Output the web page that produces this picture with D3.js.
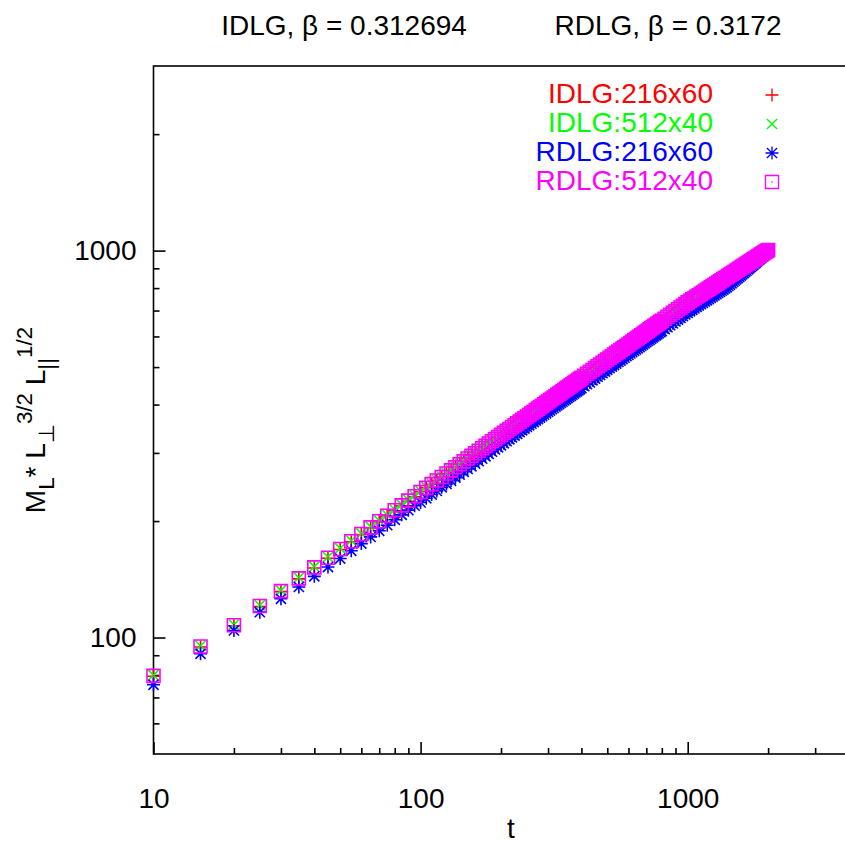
<!DOCTYPE html>
<html><head><meta charset="utf-8">
<script src="https://cdn.jsdelivr.net/npm/d3@7"></script>
<style>body{margin:0;background:#fff}svg text{font-family:"Liberation Sans",Arial,Helvetica,sans-serif}</style>
</head><body>
<svg id="chart" width="845" height="843"></svg>
<script>
// ---- data ----
const tValues = [10,15,20,25,30,35,40,45,50,55,60,65,70,75,80,85,90,95,
100,105,110,115,120,125,130,135,140,145,150,155,160,165,170,175,180,185,190,195,
200,205,210,215,220,225,230,235,240,245,250,255,260,265,270,275,280,285,290,295,
300,305,310,315,320,325,330,335,340,345,350,355,360,365,370,375,380,385,390,395,400,
410,420,430,440,450,460,470,480,490,500,510,520,530,540,550,560,570,580,590,600,
610,620,630,640,650,660,670,680,690,700,710,720,730,740,750,760,770,780,790,800,
820,840,860,880,900,920,940,960,980,1000,
1020,1040,1060,1080,1100,1120,1140,1160,1180,1200,1220,1240,1260,1280,1300,1320,1340,1360,1380,1400,
1420,1440,1460,1480,1500,1520,1540,1560,1580,1600,1620,1640,1660,1680,1700,1720,1740,1760,1780,1800,
1820,1840,1860,1880,1900,1920,1940,1960,1980,2000];

const idlg216x60 = [79.4,94.5,107.3,120.2,131.4,141.8,151.3,160.3,168.8,176.9,184.5,192.0,199.1,205.9,212.6,218.9,225.1,231.2,
238,244,249,255,260,265,270,276,280,285,290,295,299,304,308,313,317,322,326,330,
334,338,342,346,350,354,358,361,365,369,373,376,380,383,387,390,394,397,401,404,
407,411,414,417,421,424,427,430,433,436,439,442,445,449,452,454,457,460,463,466,469,
475,480,486,492,497,502,508,513,518,523,528,533,538,543,548,553,558,563,567,572,
577,581,586,591,595,600,604,608,613,617,621,626,630,634,638,642,647,651,655,659,
667,675,683,690,698,706,713,720,728,735,
741,748,754,761,767,773,779,786,792,798,804,810,815,821,827,833,838,844,849,855,
860,866,871,877,882,887,892,898,903,908,913,918,923,928,933,938,943,948,953,957,
962,967,972,976,981,986,990,995,999,1004];

const idlg512x40 = [79.9,95.2,108.0,121.1,132.3,142.8,152.4,161.4,170.0,178.1,185.8,193.4,200.5,207.3,214.1,220.5,226.7,232.8,
239,245,250,256,261,266,271,277,282,286,291,296,301,305,310,314,318,323,327,331,
335,339,343,347,351,355,359,363,367,370,374,378,381,385,388,392,395,399,402,406,
409,412,416,419,422,425,429,432,435,438,441,444,447,450,453,456,459,462,465,468,471,
477,482,488,493,499,504,510,515,520,525,531,536,541,546,551,555,560,565,570,574,
579,584,588,593,597,602,606,611,615,619,624,628,632,637,641,645,649,653,657,661,
669,677,685,693,701,708,716,723,730,738,
744,751,757,764,770,776,782,789,795,801,807,813,819,824,830,836,842,847,853,858,
864,869,875,880,885,891,896,901,906,912,917,922,927,932,937,942,947,951,956,961,
966,971,975,980,985,989,994,999,1003,1008];

const rdlg216x60 = [75.5,90.8,104.3,116.3,125.9,135.1,143.9,152.1,160.0,167.6,174.9,182.0,188.7,195.1,201.5,207.5,213.4,219.1,
223.5,229.0,234.2,239.3,244.4,249.4,254.2,259.0,263.6,268.2,272.7,277.1,281.4,285.7,289.9,294.0,298.2,302.2,306.2,310.1,
314.0,317.7,321.6,325.2,328.9,332.6,336.2,339.7,343.3,346.8,350.2,353.6,357.0,360.4,363.7,367.0,370.3,373.5,376.7,379.8,
383.0,386.1,389.2,392.2,395.3,398.3,401.3,404.2,407.1,410.0,412.9,415.9,418.7,421.6,424.4,427.1,430.0,432.7,435.5,438.2,440.9,
446.2,451.6,456.8,462.0,467.1,472.2,477.1,482.1,487.0,491.9,496.7,501.4,506.1,510.8,515.4,519.9,524.4,528.9,533.4,537.8,
542.2,546.5,550.8,555.1,559.3,563.5,567.7,571.8,575.9,580.0,584.0,588.1,592.0,596.1,599.9,603.9,607.7,611.6,615.4,619.3,
626.8,634.2,641.6,648.9,656.0,663.2,670.1,677.1,683.9,690.7,
696.9,703.0,709.0,715.1,721.0,726.8,732.6,738.5,744.1,749.7,755.4,760.9,766.4,771.8,777.3,782.6,787.9,793.2,798.4,803.6,
810.2,816.7,823.3,829.9,836.3,842.8,849.3,855.7,862.2,868.6,874.9,881.3,887.6,893.9,900.3,906.7,912.9,919.3,925.5,931.7,
938.0,944.3,950.4,956.7,962.9,969.1,975.2,981.5,987.6,993.8];

const rdlg512x40 = [79.6,94.8,107.6,120.6,131.8,142.2,151.8,160.8,169.3,177.4,185.1,192.6,199.7,206.5,213.2,219.6,225.8,231.9,
237.8,243.6,249.2,254.6,260.0,265.3,270.4,275.5,280.4,285.3,290.1,294.8,299.4,303.9,308.4,312.8,317.2,321.5,325.7,329.9,
334.0,338.0,342.1,346.0,349.9,353.8,357.7,361.4,365.2,368.9,372.6,376.2,379.8,383.4,386.9,390.4,393.9,397.3,400.7,404.0,
407.4,410.7,414.0,417.2,420.5,423.7,426.9,430.0,433.1,436.2,439.3,442.4,445.4,448.5,451.5,454.4,457.4,460.3,463.3,466.2,469.0,
474.7,480.4,486.0,491.5,496.9,502.3,507.6,512.9,518.1,523.3,528.4,533.4,538.4,543.4,548.3,553.1,557.9,562.7,567.4,572.1,
576.8,581.4,586.0,590.5,595.0,599.5,603.9,608.3,612.7,617.0,621.3,625.6,629.8,634.1,638.2,642.4,646.5,650.6,654.7,658.8,
666.8,674.7,682.5,690.3,697.9,705.5,712.9,720.3,727.6,734.8,
741.4,747.9,754.3,760.7,767.0,773.2,779.4,785.6,791.6,797.6,803.6,809.5,815.3,821.1,826.9,832.6,838.2,843.8,849.4,854.9,
860.4,865.8,871.2,876.6,881.9,887.2,892.4,897.6,902.8,907.9,913.0,918.0,923.0,928.0,933.0,937.9,942.8,947.7,952.5,957.3,
962.1,966.8,971.5,976.2,980.9,985.5,990.1,994.7,999.3,1003.8];

const seriesNames = ["IDLG:216x60", "IDLG:512x40", "RDLG:216x60", "RDLG:512x40"];
const seriesColors = ["#ff0000", "#00ff00", "#0000ff", "#ff00ff"];
const seriesSymbols = ["plus", "cross", "star", "box"];
const titleTexts = ["IDLG, \u03b2 = 0.312694", "RDLG, \u03b2 = 0.3172"];
const xMajorTicks = [10, 100, 1000];
const xMinorTicks = [20,30,40,50,60,70,80,90,200,300,400,500,600,700,800,900,2000,3000,4000];
const yMajorTicks = [100, 1000];
const yMinorTicks = [60,70,80,90,200,300,400,500,600,700,800,900,2000];
const xLabel = "t";

// ---- drawing ----
const svg = d3.select("#chart");
const FONT = 28;
const L = 153.5, T = 66, B = 754, R = 874.4;
const x = d3.scaleLog().domain([10, 5000]).range([L, R]);
const y = d3.scaleLog().domain([50, 3000]).range([B, T]);

const series = [idlg216x60, idlg512x40, rdlg216x60, rdlg512x40].map((vals, i) => ({
  name: seriesNames[i], color: seriesColors[i], symbol: seriesSymbols[i],
  points: tValues.map((t, j) => ({t, v: vals[j]}))
}));

function symbolPath(type, h) {
  const c = h * 0.78;
  switch (type) {
    case "plus": return `M${-h},0H${h}M0,${-h}V${h}`;
    case "cross": return `M${-c},${-c}L${c},${c}M${-c},${c}L${c},${-c}`;
    case "star": return `M${-h},0H${h}M0,${-h}V${h}M${-c},${-c}L${c},${c}M${-c},${c}L${c},${-c}`;
    case "box": return `M${-h},${-h}H${h}V${h}H${-h}Z M-0.6,0H0.6`;
  }
}
const H = 6.5;
const SW = 1.6;

// border
svg.append("rect").attr("x", L).attr("y", T).attr("width", R - L).attr("height", B - T)
  .attr("fill", "none").attr("stroke", "#000").attr("stroke-width", 1.6);

function styleAxis(g) {
  g.select(".domain").remove();
  g.selectAll(".tick line").attr("stroke", "#000").attr("stroke-width", 1.6);
  g.selectAll(".tick text").attr("font-size", FONT).attr("fill", "#000")
    .attr("font-family", '"Liberation Sans",Arial,Helvetica,sans-serif');
}
svg.append("g").attr("transform", `translate(0,${B})`)
  .call(d3.axisBottom(x).tickValues(xMajorTicks).tickSize(-12).tickPadding(34).tickFormat(d3.format("d")))
  .call(styleAxis);
svg.append("g").attr("transform", `translate(0,${B})`)
  .call(d3.axisBottom(x).tickValues(xMinorTicks).tickSize(-6).tickFormat(""))
  .call(styleAxis);
svg.append("g").attr("transform", `translate(${L},0)`)
  .call(d3.axisLeft(y).tickValues(yMajorTicks).tickSize(-12).tickPadding(17).tickFormat(d3.format("d")))
  .call(styleAxis);
svg.append("g").attr("transform", `translate(${L},0)`)
  .call(d3.axisLeft(y).tickValues(yMinorTicks).tickSize(-6).tickFormat(""))
  .call(styleAxis);

// points
series.forEach(s => {
  svg.append("g").selectAll("path").data(s.points).join("path")
    .attr("transform", d => `translate(${x(d.t)},${y(d.v)})`)
    .attr("d", symbolPath(s.symbol, H))
    .attr("fill", "none").attr("stroke", s.color).attr("stroke-width", SW);
});

// titles
const titleX = [344, 668];
titleTexts.forEach((tt, i) => {
  svg.append("text").attr("x", titleX[i]).attr("y", 35).attr("text-anchor", "middle")
    .attr("font-size", FONT).attr("fill", "#000").text(tt);
});

// x label
svg.append("text").attr("x", 511).attr("y", 838).attr("text-anchor", "middle")
  .attr("font-size", FONT).attr("fill", "#000").text(xLabel);

// y label with sub/superscripts
const yParts = [
  {s: "M", k: 0}, {s: "L", k: 1}, {s: "*", k: 0}, {s: " L", k: 0}, {s: "\u22a5", k: 1},
  {s: "3/2", k: -1}, {s: " L", k: 0}, {s: "||", k: 1}, {s: "1/2", k: -1}
];
const yl = svg.append("text").attr("transform", "translate(45,420) rotate(-90)")
  .attr("text-anchor", "middle").attr("font-size", FONT).attr("fill", "#000");
let cur = 0;
yParts.forEach(p => {
  const off = p.k === 1 ? 9 : (p.k === -1 ? -13 : 0);
  yl.append("tspan").attr("dy", off - cur).attr("font-size", p.k ? 22.4 : FONT).text(p.s);
  cur = off;
});

// legend
series.forEach((s, i) => {
  const by = 103 + i * 29;
  svg.append("text").attr("x", 713).attr("y", by).attr("text-anchor", "end")
    .attr("font-size", FONT).attr("fill", s.color).text(s.name);
  svg.append("path").attr("transform", `translate(772,${by - 8})`)
    .attr("d", symbolPath(s.symbol, H)).attr("fill", "none")
    .attr("stroke", s.color).attr("stroke-width", 1.3);
});
</script>
</body></html>
